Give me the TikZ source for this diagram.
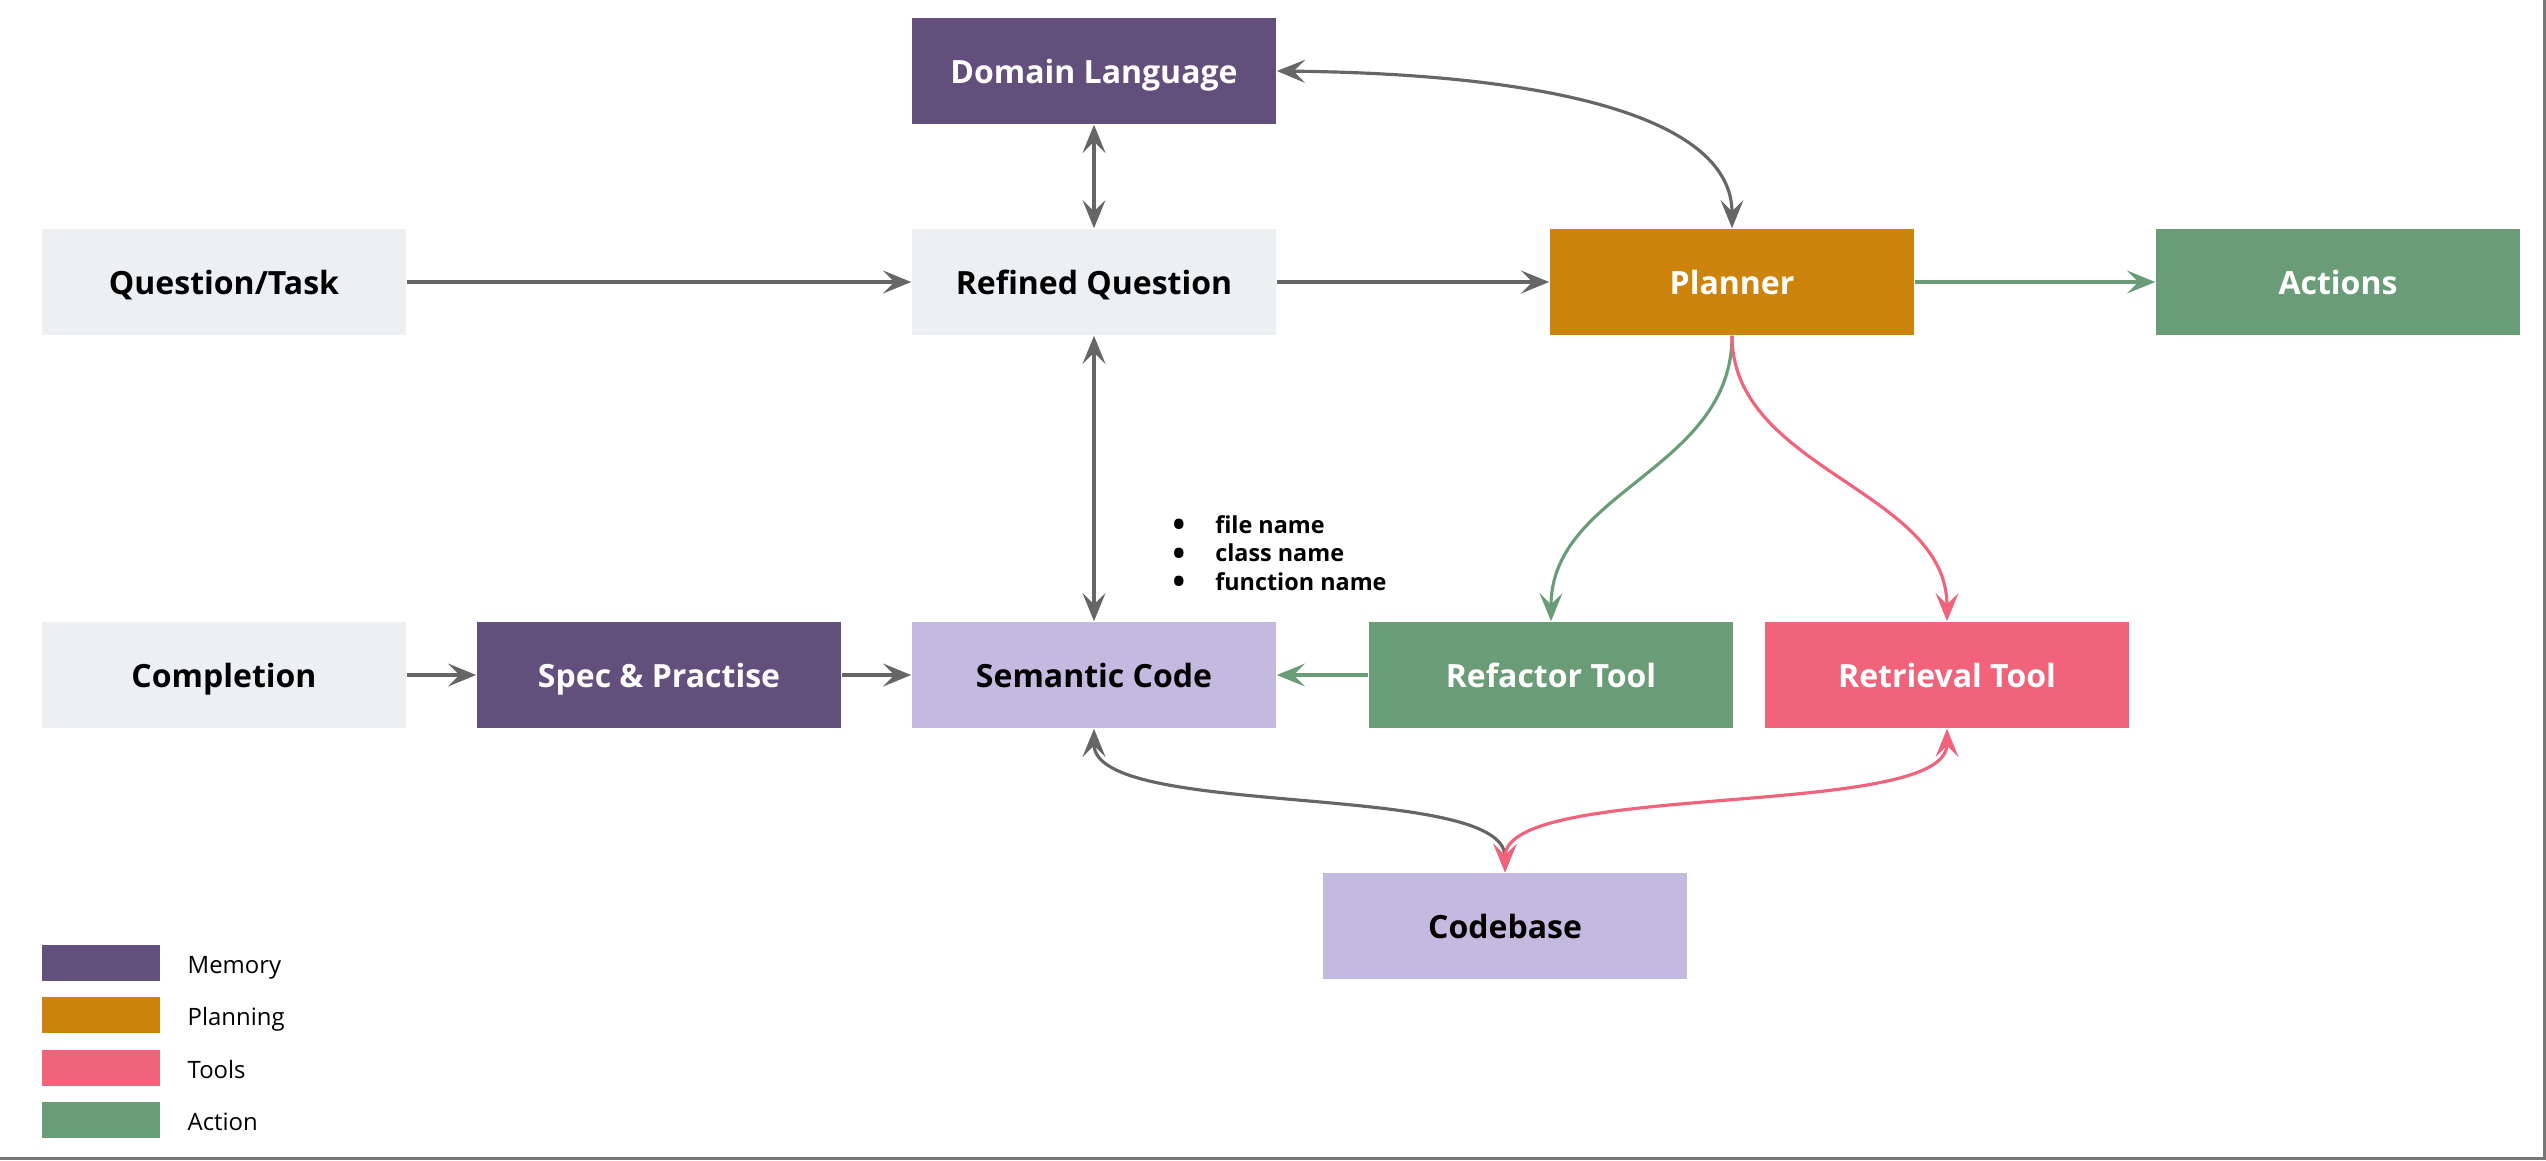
\documentclass[tikz,border=0pt]{standalone}
\usepackage{fontspec}
\setmainfont{Open Sans}
\usetikzlibrary{arrows.meta}
\definecolor{memc}{HTML}{624F7C}
\definecolor{planc}{HTML}{CD840C}
\definecolor{toolc}{HTML}{F0637B}
\definecolor{actc}{HTML}{6A9C77}
\definecolor{lightc}{HTML}{EDF0F3}
\definecolor{lavc}{HTML}{C4B9DE}
\definecolor{arrc}{HTML}{666666}
\definecolor{framec}{HTML}{777777}
\tikzset{
  box/.style={minimum width=3.64cm, minimum height=1.06cm, inner sep=0pt, draw=none,
    text height=0.714em, text depth=0pt,
    font=\fontsize{9.1}{11}\selectfont\bfseries},
  darkbox/.style={box, text=white},
  lightbox/.style={box, text=black},
  conn/.style={line width=0.9pt, -{Stealth[length=8pt, width=6.5pt, inset=3.2pt]}},
  dconn/.style={line width=0.9pt, {Stealth[length=8pt, width=6.5pt, inset=3.2pt]}-{Stealth[length=8pt, width=6.5pt, inset=3.2pt]}},
  swatch/.style={minimum width=1.17cm, minimum height=0.36cm, inner sep=0pt, draw=none},
  legtext/.style={anchor=west, inner sep=0pt, text height=0.714em, text depth=0pt, font=\fontsize{6.8}{8}\selectfont},
}
\newcommand{\bigbul}{{\fontsize{9.5}{8}\selectfont\raisebox{-0.2ex}{•}}}
\begin{document}
\begin{tikzpicture}[x=0.01cm, y=-0.01cm]
\useasboundingbox (0,0) rectangle (2546,1160);
\draw[framec, line width=0.03cm] (2544.5,0) -- (2544.5,1158.5) -- (0,1158.5);

% boxes
\node[darkbox, fill=memc] (dl) at (1094,71) {Domain Language};
\node[lightbox, fill=lightc] (qt) at (224,282) {Question/Task};
\node[lightbox, fill=lightc] (rq) at (1094,282) {Refined Question};
\node[darkbox, fill=planc] (pl) at (1732,282) {Planner};
\node[darkbox, fill=actc] (ac) at (2338,282) {Actions};
\node[lightbox, fill=lightc] (co) at (224,675) {Completion};
\node[darkbox, fill=memc] (sp) at (659,675) {Spec \& Practise};
\node[lightbox, fill=lavc] (sc) at (1094,675) {Semantic Code};
\node[darkbox, fill=actc] (rf) at (1551,675) {Refactor Tool};
\node[darkbox, fill=toolc] (rt) at (1947,675) {Retrieval Tool};
\node[lightbox, fill=lavc] (cb) at (1505,926) {Codebase};

% bullet list
\node[anchor=west, inner sep=0pt, font=\fontsize{6.65}{8.1}\selectfont\bfseries] (bl) at (1172,556)
  {\begin{tabular}{@{}l@{\hspace{0.30cm}}l@{}}\bigbul&file name\\\bigbul&class name\\\bigbul&function name\end{tabular}};

% connectors
\draw[conn, arrc] (qt) -- (rq);
\draw[conn, arrc] (rq) -- (pl);
\draw[conn, actc] (pl) -- (ac);
\draw[dconn, arrc] (dl) -- (rq);
\draw[dconn, arrc] (rq) -- (sc);
\draw[conn, arrc] (co) -- (sp);
\draw[conn, arrc] (sp) -- (sc);
\draw[conn, actc] (rf) -- (sc);
\draw[dconn, arrc] (dl.east) .. controls (1560,74) and (1732,120) .. (pl.north);
\draw[conn, actc] (pl.south) .. controls (1732,470) and (1551,490) .. (rf.north);
\draw[conn, toolc] (pl.south) .. controls (1732,470) and (1947,490) .. (rt.north);
\draw[dconn, arrc] (sc.south) .. controls (1094,820) and (1505,780) .. (cb.north);
\draw[dconn, toolc] (rt.south) .. controls (1947,820) and (1505,780) .. (cb.north);

% legend
\node[swatch, fill=memc] (l1) at (101,963) {};
\node[swatch, fill=planc] (l2) at (101,1015) {};
\node[swatch, fill=toolc] (l3) at (101,1068) {};
\node[swatch, fill=actc] (l4) at (101,1120) {};
\node[legtext] (t1) at (187,961) {Memory};
\node[legtext] (t2) at (187,1013) {Planning};
\node[legtext] (t3) at (187,1066) {Tools};
\node[legtext] (t4) at (187,1118) {Action};
\end{tikzpicture}
\end{document}
